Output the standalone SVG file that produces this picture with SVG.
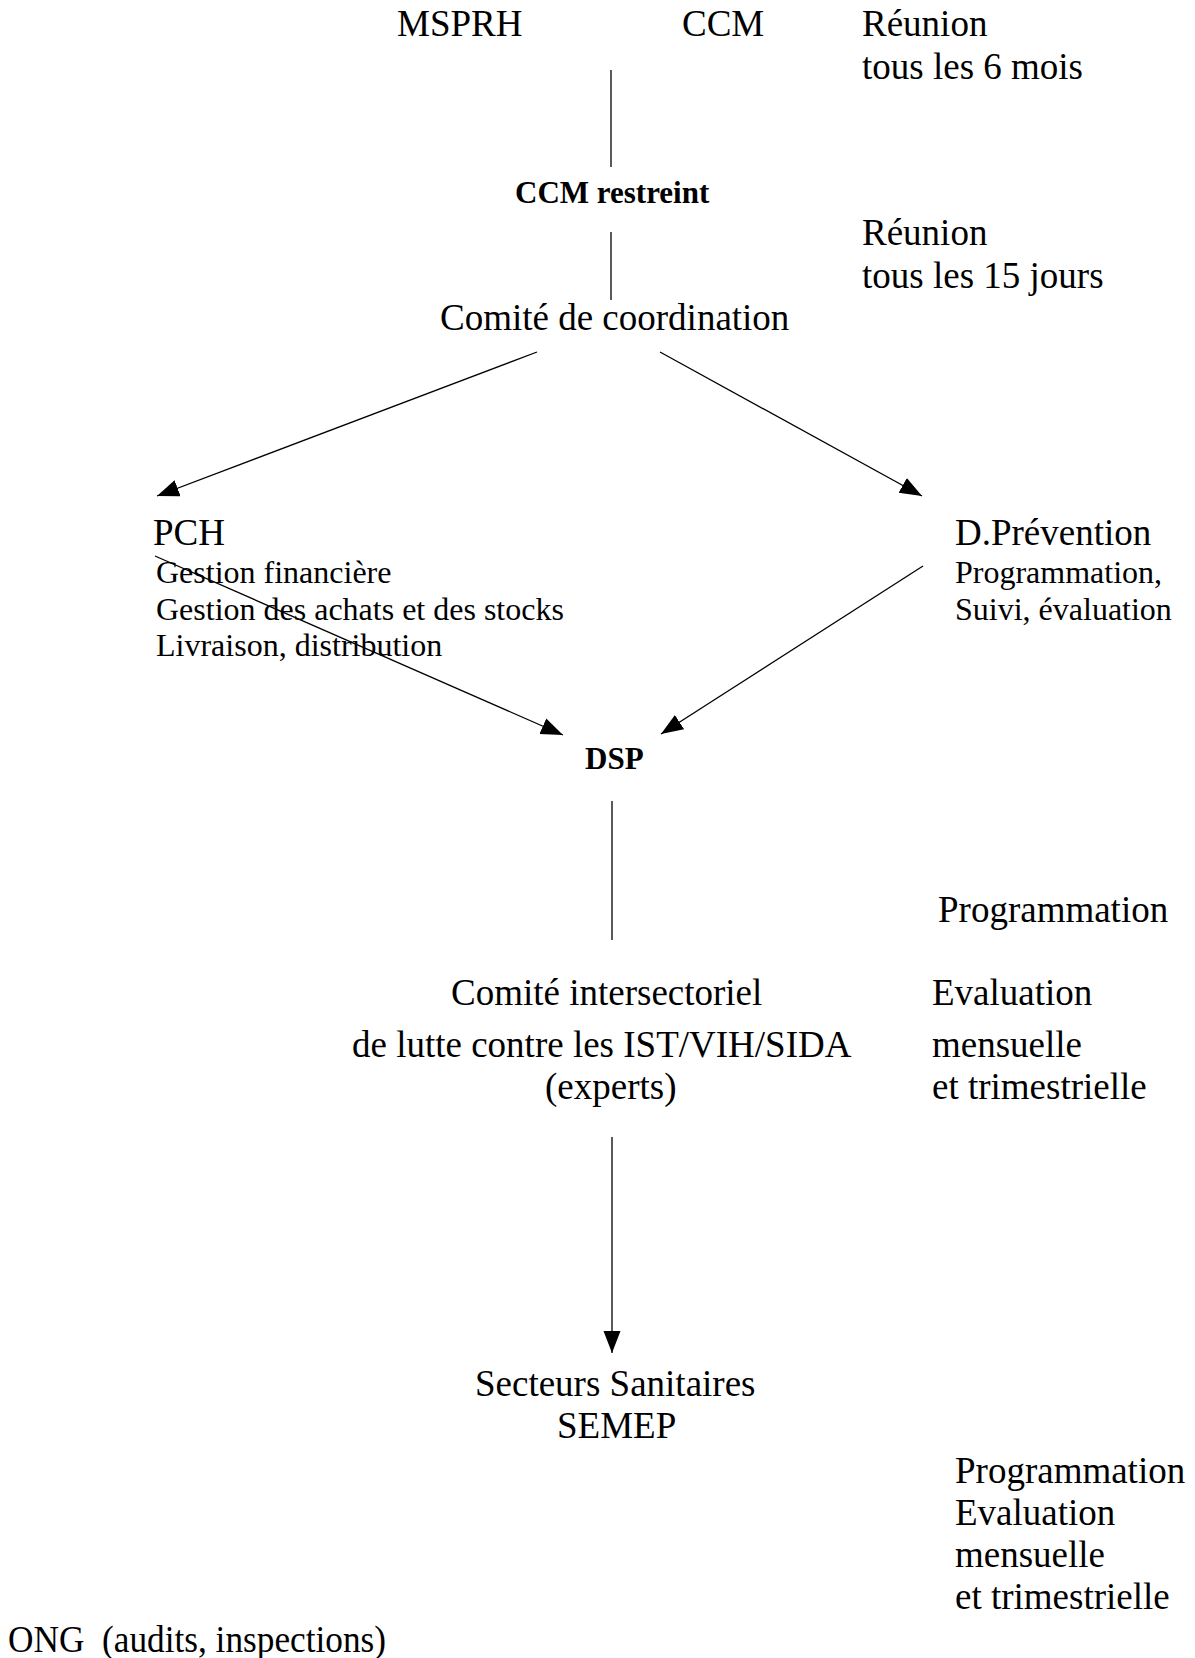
<svg xmlns="http://www.w3.org/2000/svg" width="1195" height="1658" viewBox="0 0 1195 1658">
<style>
text{font-family:"Liberation Serif","Times New Roman",serif;fill:#000}
.m{font-size:37px}
.s{font-size:32px}
.b{font-size:31px;font-weight:bold}
.ln{stroke:#000;stroke-width:1.3;fill:none}
</style>
<defs>
<marker id="ah" markerUnits="userSpaceOnUse" markerWidth="24" markerHeight="18" refX="22" refY="8.5" orient="auto">
<path d="M0,0 L22,8.5 L0,17 z" fill="#000"/>
</marker>
</defs>
<rect width="1195" height="1658" fill="#fff"/>
<g id="connectors">
<line class="ln" x1="611" y1="70" x2="611" y2="167"/>
<line class="ln" x1="611" y1="232" x2="611" y2="300"/>
<line class="ln" x1="537" y1="352" x2="157" y2="496" marker-end="url(#ah)"/>
<line class="ln" x1="660" y1="352" x2="922" y2="496" marker-end="url(#ah)"/>
<line class="ln" x1="155" y1="556" x2="563" y2="735" marker-end="url(#ah)"/>
<line class="ln" x1="923" y1="566" x2="661" y2="734" marker-end="url(#ah)"/>
<line class="ln" x1="612" y1="801" x2="612" y2="940"/>
<line class="ln" x1="612" y1="1137" x2="612" y2="1353" marker-end="url(#ah)"/>
</g>
<g id="msprh"><text class="m" x="397" y="36">MSPRH</text></g>
<g id="ccm"><text class="m" x="682" y="36">CCM</text></g>
<g id="note-ccm"><text class="m" x="862" y="36">Réunion</text><text class="m" x="862" y="79">tous les 6 mois</text></g>
<g id="ccm-restreint"><text class="b" x="515" y="203">CCM restreint</text></g>
<g id="note-restreint"><text class="m" x="862" y="245">Réunion</text><text class="m" x="862" y="288">tous les 15 jours</text></g>
<g id="comite-coordination"><text class="m" x="440" y="330">Comité de coordination</text></g>
<g id="pch">
<text class="m" x="153" y="545">PCH</text>
<text class="s" x="156" y="583">Gestion financière</text>
<text class="s" x="156" y="620">Gestion des achats et des stocks</text>
<text class="s" x="156" y="656">Livraison, distribution</text>
</g>
<g id="d-prevention">
<text class="m" x="955" y="545">D.Prévention</text>
<text class="s" x="955" y="583">Programmation,</text>
<text class="s" x="955" y="620">Suivi, évaluation</text>
</g>
<g id="dsp"><text class="b" x="585" y="769">DSP</text></g>
<g id="note-programmation"><text class="m" x="938" y="922">Programmation</text></g>
<g id="comite-intersectoriel">
<text class="m" x="451" y="1005">Comité intersectoriel</text>
<text class="m" x="352" y="1057">de lutte contre les IST/VIH/SIDA</text>
<text class="m" x="545" y="1099">(experts)</text>
</g>
<g id="note-evaluation">
<text class="m" x="932" y="1005">Evaluation</text>
<text class="m" x="932" y="1057">mensuelle</text>
<text class="m" x="932" y="1099">et trimestrielle</text>
</g>
<g id="secteurs">
<text class="m" x="475" y="1396">Secteurs Sanitaires</text>
<text class="m" x="557" y="1438">SEMEP</text>
</g>
<g id="note-secteurs">
<text class="m" x="955" y="1483">Programmation</text>
<text class="m" x="955" y="1525">Evaluation</text>
<text class="m" x="955" y="1567">mensuelle</text>
<text class="m" x="955" y="1609">et trimestrielle</text>
</g>
<g id="ong"><text class="m" x="8" y="1652" xml:space="preserve" textLength="378" lengthAdjust="spacingAndGlyphs">ONG  (audits, inspections)</text></g>
</svg>
